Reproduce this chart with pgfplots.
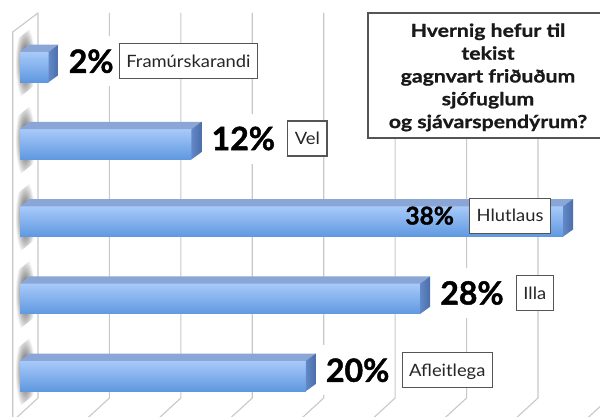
\documentclass[border=0pt]{standalone}
\usepackage{pgfplots}
\pgfplotsset{compat=1.18}
\usepackage{fontspec}
\setmainfont{Lato}
\newfontfamily\titlefont{Lato}[FakeStretch=1.18, BoldFeatures={FakeBold=1.0}]
\newfontfamily\pctfont{Lato}[BoldFeatures={FakeBold=1.4}]
\newfontfamily\catfont{Lato}[FakeStretch=1.08]
\usetikzlibrary{fadings}
\tikzfading[name=softout, inner color=transparent!0, outer color=transparent!100]
\definecolor{gridc}{HTML}{C8C8C8}
\definecolor{barTop}{HTML}{A8CAFA}
\definecolor{barMid}{HTML}{8FBAF3}
\definecolor{barBot}{HTML}{5F98E0}
\definecolor{barFace}{HTML}{8AA6D6}
\definecolor{sideA}{HTML}{6388C8}
\definecolor{sideB}{HTML}{4A6EA8}
\definecolor{boxc}{HTML}{555555}

\def\dX{0.70}
\def\dY{0.094}
\def\hw{0.197}

\tikzset{
  pctlab/.style={fill=white, font=\pctfont\bfseries\fontsize{32}{36}\selectfont, inner xsep=4pt, inner ysep=0pt,
    text height=23pt, text depth=0pt, minimum height=50pt},
  pctin/.style={font=\pctfont\bfseries\fontsize{24.5}{28}\selectfont, inner sep=0pt, text height=17.5pt, text depth=0pt},
  catlab/.style={draw=boxc, line width=1.2pt, fill=white, font=\catfont\fontsize{17}{20}\selectfont,
    text=black!85, inner xsep=7pt, inner ysep=0pt, text height=12.2pt, text depth=0pt, minimum height=35pt},
}

% #1 index (0 = bottom), #2 value, #3 category, #4 gap between value and box, #5 inside (1) or outside (0)
\newcommand\tdbar[5]{%
  \pgfmathsetmacro\ylo{#1-\hw}%
  \pgfmathsetmacro\yhi{#1+\hw}%
  \pgfmathsetmacro\ytp{#1+\hw+\dY}%
  \pgfmathsetmacro\ybr{#1-\hw+\dY}%
  \pgfmathsetmacro\xr{#2+\dX}%
  \pgfmathsetmacro\yc{#1+0.074}%
  \edef\tmp{%
    \noexpand\addplot[draw=none, top color=barTop, middle color=barMid, bottom color=barBot]
      coordinates {(0,\ylo) (#2,\ylo) (#2,\yhi) (0,\yhi)} -- cycle;
    \noexpand\addplot[draw=none, fill=barFace]
      coordinates {(0,\yhi) (#2,\yhi) (\xr,\ytp) (\dX,\ytp)} -- cycle;
    \noexpand\addplot[draw=none, left color=sideA, right color=sideB]
      coordinates {(#2,\ylo) (\xr,\ybr) (\xr,\ytp) (#2,\yhi)} -- cycle;
    \ifnum#5=0
      \noexpand\node[pctlab, anchor=west, xshift=6pt] (p#1) at (axis cs:\xr,\yc) {#2\noexpand\%};
      \noexpand\node[catlab, anchor=west, xshift=#4pt-4pt] at (p#1.east) {#3};
    \else
      \noexpand\node[catlab, anchor=east, xshift=-12pt] (c#1) at (axis cs:#2,\yc) {#3};
      \noexpand\node[pctin, anchor=east, xshift=-#4pt] at (c#1.west) {#2\noexpand\%};
    \fi
  }\tmp}

\begin{document}
\begin{tikzpicture}
\fill[white] (0,0) rectangle (600pt,-417pt);
\begin{scope}[x=1pt,y=-1pt]
  % back wall grid lines with floor slants
  \foreach \k in {0,...,8} {
    \pgfmathsetmacro\gx{38+71.43*\k}
    \draw[gridc, line width=1.1pt] (\gx,13) -- (\gx,398) -- ++(-24,22);
  }
  % left side wall
  \draw[gridc, line width=1.1pt] (12.7,440) -- (12.7,32) -- (38,13);
  % shadows of the bars on the side wall
  \foreach \i in {0,...,4} {
    \pgfmathsetmacro\c{376-77.25*\i}
    \fill[black!75, path fading=softout] (15,\c-26) -- (35,\c-42) -- (35,\c+18) -- (15,\c+34) -- cycle;
  }
  % title box
  \draw[boxc, line width=1.4pt, fill=white] (368,13) rectangle (612,138);
  \node[align=center, text=black!90, font=\titlefont\bfseries\fontsize{18}{22.8}\selectfont]
    at (488,77.4) {Hvernig hefur til\\tekist\\gagnvart friðuðum\\sjófuglum\\og sjávarspendýrum?};
\end{scope}
\begin{axis}[name=ax, at={(0,0)}, anchor=north west, scale only axis,
  width=600pt, height=417pt,
  xmin=-1.3996, xmax=40.588, ymin=-0.5307, ymax=4.8673,
  hide axis, clip=false]
  \tdbar{4}{2}{Framúrskarandi}{5}{0}
  \tdbar{3}{12}{Vel}{12}{0}
  \tdbar{2}{38}{Hlutlaus}{15}{1}
  \tdbar{1}{28}{Illa}{12}{0}
  \tdbar{0}{20}{Afleitlega}{12}{0}
\end{axis}
\pgfresetboundingbox
\useasboundingbox (0,0) rectangle (600pt,-417pt);
\end{tikzpicture}
\end{document}
